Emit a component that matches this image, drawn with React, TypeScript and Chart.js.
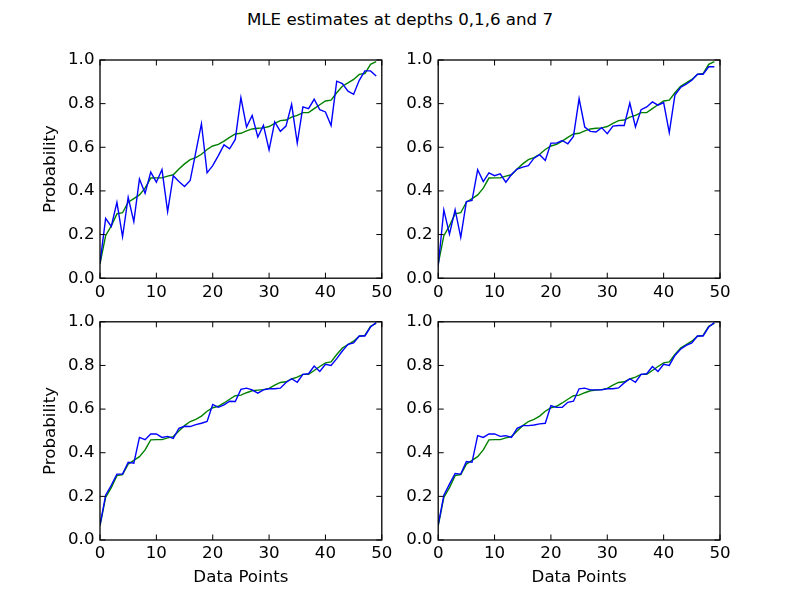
import React, { useEffect, useRef } from 'react';
import { Chart, registerables, ChartConfiguration, Plugin } from 'chart.js';

Chart.register(...registerables);

// x positions (data point index)
const dataPoints = [
  0, 1, 2, 3, 4, 5, 6, 7, 8, 9, 10, 11, 12, 13, 14, 15, 16, 17, 18, 19, 20, 21, 22, 23, 24,
  25, 26, 27, 28, 29, 30, 31, 32, 33, 34, 35, 36, 37, 38, 39, 40, 41, 42, 43, 44, 45, 46, 47, 48, 49,
];

// green reference curve (same in every panel)
const reference = [
  0.065, 0.195, 0.24, 0.295, 0.3, 0.348, 0.365, 0.382, 0.413, 0.459, 0.46, 0.46, 0.468, 0.474, 0.5,
  0.524, 0.543, 0.553, 0.568, 0.59, 0.606, 0.613, 0.628, 0.645, 0.661, 0.664, 0.675, 0.684, 0.687,
  0.689, 0.695, 0.71, 0.722, 0.725, 0.738, 0.746, 0.759, 0.759, 0.777, 0.795, 0.812, 0.816, 0.85,
  0.88, 0.895, 0.911, 0.934, 0.938, 0.98, 0.993,
];

// blue MLE estimates per depth
const depth0 = [
  0.07, 0.274, 0.237, 0.348, 0.19, 0.371, 0.259, 0.455, 0.389, 0.486, 0.44, 0.498, 0.305, 0.47, 0.443,
  0.42, 0.448, 0.578, 0.708, 0.483, 0.516, 0.562, 0.611, 0.593, 0.636, 0.828, 0.693, 0.746, 0.647,
  0.7, 0.588, 0.716, 0.673, 0.697, 0.797, 0.619, 0.785, 0.777, 0.82, 0.772, 0.762, 0.7, 0.903, 0.892,
  0.857, 0.843, 0.907, 0.95, 0.95, 0.927,
];
const depth1 = [
  0.057, 0.313, 0.202, 0.314, 0.187, 0.351, 0.356, 0.497, 0.443, 0.483, 0.47, 0.478, 0.44, 0.475, 0.5,
  0.509, 0.516, 0.55, 0.566, 0.54, 0.619, 0.619, 0.631, 0.616, 0.65, 0.823, 0.693, 0.673, 0.67, 0.69,
  0.662, 0.697, 0.7, 0.7, 0.803, 0.693, 0.772, 0.785, 0.808, 0.793, 0.805, 0.667, 0.839, 0.874, 0.889,
  0.907, 0.935, 0.935, 0.969, 0.969,
];
const depth6 = [
  0.069, 0.205, 0.251, 0.302, 0.302, 0.356, 0.352, 0.47, 0.46, 0.486, 0.486, 0.47, 0.475, 0.466, 0.512,
  0.521, 0.52, 0.529, 0.535, 0.543, 0.621, 0.608, 0.619, 0.636, 0.635, 0.69, 0.696, 0.688, 0.673,
  0.688, 0.693, 0.693, 0.696, 0.722, 0.739, 0.723, 0.759, 0.762, 0.797, 0.772, 0.805, 0.8, 0.831,
  0.866, 0.897, 0.903, 0.935, 0.935, 0.976, 0.996,
];
const depth7 = [
  0.069, 0.205, 0.256, 0.305, 0.302, 0.36, 0.356, 0.478, 0.47, 0.486, 0.486, 0.475, 0.478, 0.47, 0.512,
  0.524, 0.524, 0.527, 0.532, 0.535, 0.616, 0.608, 0.608, 0.631, 0.636, 0.693, 0.696, 0.688, 0.688,
  0.688, 0.693, 0.693, 0.697, 0.72, 0.739, 0.723, 0.759, 0.762, 0.795, 0.772, 0.805, 0.8, 0.846, 0.874,
  0.892, 0.903, 0.935, 0.935, 0.976, 0.996,
];

const FONT = { family: "'DejaVu Sans'", size: 16.67 };
const Y_AXIS_W = 70;
const X_AXIS_H = 55;

// matplotlib-classic style frame with inward ticks on all four sides
const mplFrame: Plugin = {
  id: 'mplFrame',
  afterDatasetsDraw(chart) {
    const { ctx, chartArea: a, scales } = chart;
    const len = 5.5;
    ctx.save();
    ctx.strokeStyle = '#000';
    ctx.lineWidth = 1;
    ctx.beginPath();
    scales.x.ticks.forEach((t) => {
      const px = scales.x.getPixelForValue(t.value);
      ctx.moveTo(px, a.bottom);
      ctx.lineTo(px, a.bottom - len);
      ctx.moveTo(px, a.top);
      ctx.lineTo(px, a.top + len);
    });
    scales.y.ticks.forEach((t) => {
      const py = scales.y.getPixelForValue(t.value);
      ctx.moveTo(a.left, py);
      ctx.lineTo(a.left + len, py);
      ctx.moveTo(a.right, py);
      ctx.lineTo(a.right - len, py);
    });
    ctx.stroke();
    ctx.lineWidth = 1.3;
    ctx.strokeRect(a.left, a.top, a.right - a.left, a.bottom - a.top);
    ctx.restore();
  },
};

interface Rect {
  left: number;
  top: number;
  right: number;
  bottom: number;
}

interface PanelProps {
  estimates: number[];
  rect: Rect;
  yTitle: boolean;
  xTitle: boolean;
}

const Panel: React.FC<PanelProps> = ({ estimates, rect, yTitle, xTitle }) => {
  const canvasRef = useRef<HTMLCanvasElement | null>(null);

  useEffect(() => {
    if (!canvasRef.current) return;
    const config: ChartConfiguration<'line'> = {
      type: 'line',
      data: {
        datasets: [
          {
            data: dataPoints.map((x, i) => ({ x, y: estimates[i] })),
            borderColor: '#0000ff',
            borderWidth: 1.4,
            pointRadius: 0,
            tension: 0,
          },
          {
            data: dataPoints.map((x, i) => ({ x, y: reference[i] })),
            borderColor: '#008000',
            borderWidth: 1.4,
            pointRadius: 0,
            tension: 0,
          },
        ],
      },
      options: {
        responsive: false,
        animation: false,
        events: [],
        layout: {
          padding: {
            left: rect.left - Y_AXIS_W,
            top: rect.top,
            right: 800 - rect.right,
            bottom: 600 - rect.bottom - X_AXIS_H,
          },
        },
        plugins: {
          legend: { display: false },
          tooltip: { enabled: false },
        },
        scales: {
          x: {
            type: 'linear',
            min: 0,
            max: 50,
            ticks: { stepSize: 10, padding: 4, color: '#000', font: FONT },
            grid: { display: false, drawTicks: false },
            border: { display: false },
            title: {
              display: xTitle,
              text: 'Data Points',
              color: '#000',
              font: FONT,
              padding: { top: 0, bottom: 7 },
            },
            afterFit: (s) => {
              s.height = X_AXIS_H;
            },
          },
          y: {
            type: 'linear',
            min: 0,
            max: 1,
            ticks: {
              stepSize: 0.2,
              padding: 5.5,
              color: '#000',
              font: FONT,
              callback: (v) => Number(v).toFixed(1),
            },
            grid: { display: false, drawTicks: false },
            border: { display: false },
            title: {
              display: yTitle,
              text: 'Probability',
              color: '#000',
              font: FONT,
              padding: { top: 11, bottom: 0 },
            },
            afterFit: (s) => {
              s.width = Y_AXIS_W;
            },
          },
        },
      },
      plugins: [mplFrame],
    };
    const chart = new Chart(canvasRef.current, config);
    return () => {
      chart.destroy();
    };
  }, [estimates, rect, yTitle, xTitle]);

  return (
    <canvas
      ref={canvasRef}
      width={800}
      height={600}
      style={{ position: 'absolute', left: 0, top: 0, width: 800, height: 600 }}
    />
  );
};

const TOP_LEFT = { left: 100, top: 60, right: 381.8, bottom: 278.2 };
const TOP_RIGHT = { left: 438.2, top: 60, right: 720, bottom: 278.2 };
const BOTTOM_LEFT = { left: 100, top: 321.8, right: 381.8, bottom: 540 };
const BOTTOM_RIGHT = { left: 438.2, top: 321.8, right: 720, bottom: 540 };

const App: React.FC = () => (
  <div
    style={{
      position: 'absolute',
      left: 0,
      top: 0,
      width: 800,
      height: 600,
      background: '#fff',
      overflow: 'hidden',
    }}
  >
    <div
      style={{
        position: 'absolute',
        left: 0,
        top: 10,
        width: 800,
        textAlign: 'center',
        fontFamily: "'DejaVu Sans'",
        fontSize: 16.67,
        lineHeight: '20px',
        color: '#000',
      }}
    >
      MLE estimates at depths 0,1,6 and 7
    </div>
    <Panel estimates={depth0} rect={TOP_LEFT} yTitle xTitle={false} />
    <Panel estimates={depth1} rect={TOP_RIGHT} yTitle={false} xTitle={false} />
    <Panel estimates={depth6} rect={BOTTOM_LEFT} yTitle xTitle />
    <Panel estimates={depth7} rect={BOTTOM_RIGHT} yTitle={false} xTitle />
  </div>
);

export default App;
